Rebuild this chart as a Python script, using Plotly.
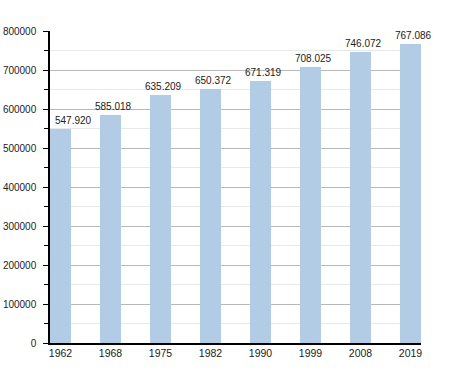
import plotly.graph_objects as go

years = ["1962", "1968", "1975", "1982", "1990", "1999", "2008", "2019"]
population = [547920, 585018, 635209, 650372, 671319, 708025, 746072, 767086]
labels = ["547.920", "585.018", "635.209", "650.372", "671.319", "708.025", "746.072", "767.086"]
y_ticks = [0, 100000, 200000, 300000, 400000, 500000, 600000, 700000, 800000]

# style: horizontal nudge of value labels (first one clears the axis)
label_xshift = [13, 3, 3, 3, 3, 3, 3, 3]

bar_w = 0.42
xpos = list(range(len(years)))
FONT = "Liberation Sans, Arial, sans-serif"

fig = go.Figure()
fig.add_trace(go.Bar(
    x=xpos, y=population, width=bar_w, offset=0,
    marker=dict(color="#b3cce6", line=dict(width=0)),
    hoverinfo="skip",
))

for i, (v, t) in enumerate(zip(population, labels)):
    fig.add_annotation(
        x=xpos[i] + bar_w / 2, y=v, text=t, showarrow=False,
        xanchor="center", yanchor="bottom", yshift=1, xshift=label_xshift[i],
        font=dict(family=FONT, size=10, color="#222222"),
    )

fig.update_layout(
    width=450, height=373,
    margin=dict(l=50, r=29, t=31, b=30, autoexpand=False),
    paper_bgcolor="white", plot_bgcolor="white",
    showlegend=False,
    font=dict(family=FONT, size=10, color="#222222"),
    bargap=0,
)
fig.update_xaxes(
    range=[0, len(years) - 1 + bar_w], automargin=False,
    tickvals=[i + bar_w / 2 for i in xpos], ticktext=years,
    showline=True, linecolor="black", linewidth=1.5,
    ticks="", showgrid=False, zeroline=False,
    tickfont=dict(size=10.5),
)
fig.update_yaxes(
    range=[0, 800000], tickvals=y_ticks, ticktext=[str(v) for v in y_ticks], automargin=False,
    showline=True, linecolor="black", linewidth=1.5,
    ticks="outside", ticklen=5, tickcolor="black", tickwidth=1,
    ticklabelstandoff=5,
    showgrid=True, gridcolor="#b8b8b8", gridwidth=1,
    zeroline=False,
    minor=dict(dtick=50000, tick0=0, ticks="outside", ticklen=4, tickcolor="black",
               showgrid=True, gridcolor="#e8e8e8", gridwidth=1),
    tickfont=dict(size=10),
)

fig.write_html("out.html", config={"displayModeBar": False},
               post_script="document.body.style.margin='0';")
